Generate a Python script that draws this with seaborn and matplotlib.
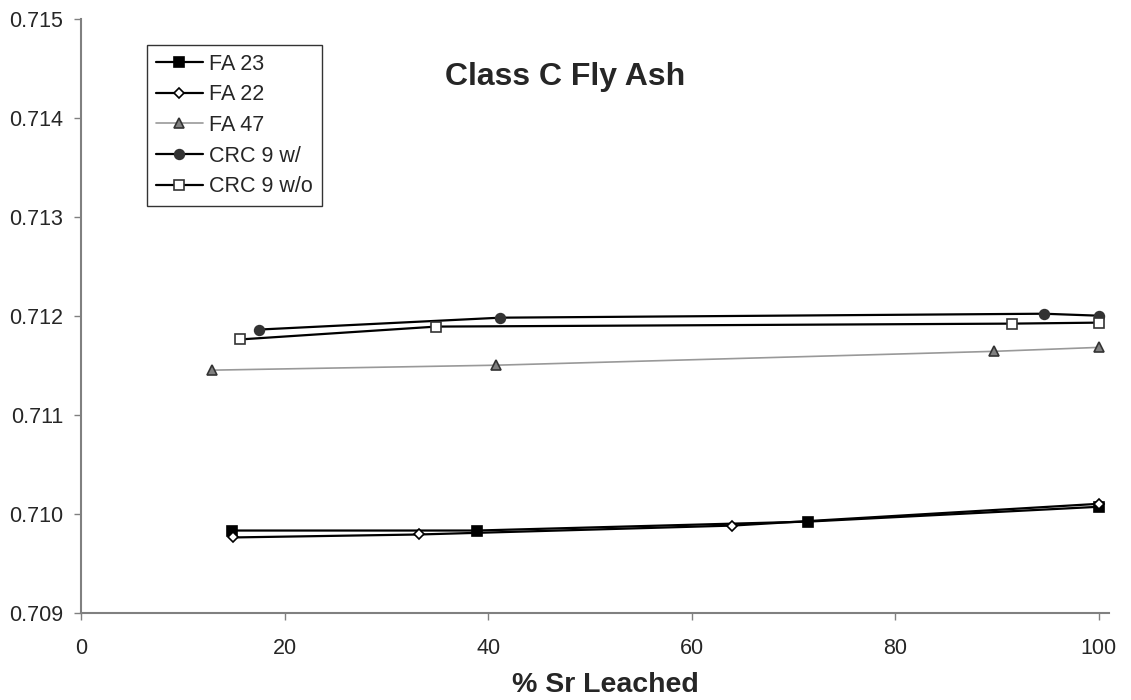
import numpy as np
import pandas as pd
import seaborn as sns
import matplotlib.pyplot as plt
from matplotlib.ticker import FormatStrFormatter

sns.set_style("white")
plt.rcParams['font.family'] = ['Liberation Sans', 'DejaVu Sans']

# values
fa23_x = [14.8, 38.9, 71.4, 100.0]
fa23_y = [0.70983, 0.70983, 0.70992, 0.71007]

fa22_x = [14.9, 33.2, 64.0, 100.0]
fa22_y = [0.70976, 0.70979, 0.70988, 0.71010]

fa47_x = [12.9, 40.8, 89.7, 100.0]
fa47_y = [0.71145, 0.71150, 0.71164, 0.71168]

crc_w_x = [17.5, 41.2, 94.6, 100.0]
crc_w_y = [0.71186, 0.71198, 0.71202, 0.71200]

crc_wo_x = [15.6, 34.9, 91.5, 100.0]
crc_wo_y = [0.71176, 0.71189, 0.71192, 0.71193]

names = ['FA 23', 'FA 22', 'FA 47', 'CRC 9 w/', 'CRC 9 w/o']
xs = [fa23_x, fa22_x, fa47_x, crc_w_x, crc_wo_x]
ys = [fa23_y, fa22_y, fa47_y, crc_w_y, crc_wo_y]

df = pd.concat([pd.DataFrame({'leached': x, 'ratio': y, 'sample': n})
                for n, x, y in zip(names, xs, ys)], ignore_index=True)

# line color, marker, face, edge, size, line width
styles = {
    'FA 23':     ('black',   's', 'black',   'black',   7, 1.6),
    'FA 22':     ('black',   'D', 'white',   'black',   5, 1.6),
    'FA 47':     ('#999999', '^', '#808080', '#333333', 7, 1.2),
    'CRC 9 w/':  ('black',   'o', '#333333', '#333333', 7, 1.6),
    'CRC 9 w/o': ('black',   's', 'white',   '#333333', 7, 1.6),
}

fig = plt.figure(figsize=(11.31, 7.0), dpi=100)
ax = fig.add_axes([81/1131, 1-612.7/700, (1109-81)/1131, (612.7-18.7)/700])

for n in names:
    c, m, fc, ec, ms, lw = styles[n]
    sns.lineplot(data=df[df['sample'] == n], x='leached', y='ratio', ax=ax,
                 color=c, marker=m, markerfacecolor=fc, markeredgecolor=ec,
                 markersize=ms, markeredgewidth=1.2, linewidth=lw, label=n)

ax.set_xlim(0, 101)
ax.set_ylim(0.709, 0.715)
ax.set_xticks([0, 20, 40, 60, 80, 100])
ax.set_yticks([0.709, 0.710, 0.711, 0.712, 0.713, 0.714, 0.715])
ax.yaxis.set_major_formatter(FormatStrFormatter('%.3f'))

for s in ['top', 'right']:
    ax.spines[s].set_visible(False)
for s in ['left', 'bottom']:
    ax.spines[s].set_color('#808080')
    ax.spines[s].set_linewidth(1.5)

ax.tick_params(axis='x', direction='out', length=5, width=1, color='#808080',
               labelsize=15.5, pad=13, bottom=True)
ax.tick_params(axis='y', direction='out', length=5, width=1, color='#808080',
               labelsize=15.5, pad=8, left=True)

ax.set_ylabel('')
ax.set_xlabel('% Sr Leached', fontsize=20.5, fontweight='bold')
ax.xaxis.set_label_coords((605-81)/(1109-81), -0.10)

fig.text(445/1131, 1-77/700, 'Class C Fly Ash', fontsize=23, fontweight='bold',
         ha='left', va='center')

leg = ax.legend(loc='upper left', bbox_to_anchor=(147/1131, 1-45/700),
                bbox_transform=fig.transFigure, borderaxespad=0,
                fontsize=15.5, frameon=True, fancybox=False, handlelength=2.2,
                handletextpad=0.3, labelspacing=0.45, borderpad=0.4)
leg.get_frame().set_edgecolor('black')
leg.get_frame().set_linewidth(1.0)

fig.savefig('out.png', dpi=100)
